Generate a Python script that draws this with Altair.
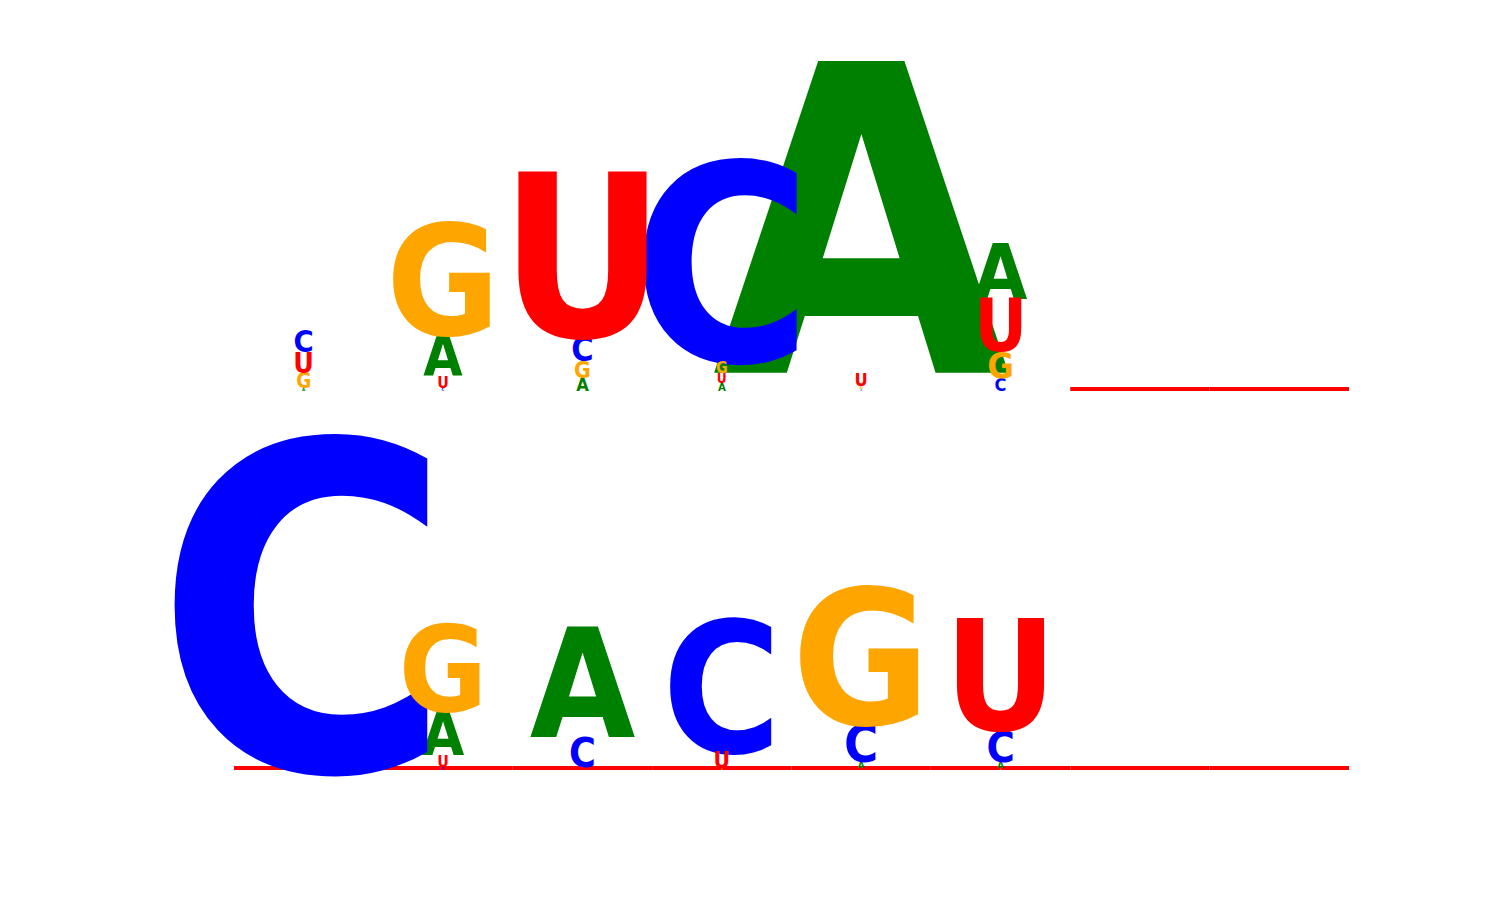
import altair as alt
import pandas as pd

# ---- data (information content in bits) ----
positions = [1, 2, 3, 4, 5, 6, 7, 8]
letters = ["A", "C", "G", "U"]
colors = ["green", "blue", "orange", "red"]

top_A = [0.02, 0.25, 0.08, 0.05, 1.89, 0.34, 0.0, 0.0]
top_C = [0.135, 0.02, 0.15, 1.21, 0.01, 0.08, 0.0, 0.0]
top_G = [0.09, 0.68, 0.10, 0.07, 0.02, 0.16, 0.0, 0.0]
top_U = [0.125, 0.07, 1.00, 0.06, 0.08, 0.32, 0.0, 0.0]

bot_A = [0.0, 0.27, 0.67, 0.0, 0.04, 0.04, 0.0, 0.0]
bot_C = [2.00, 0.02, 0.18, 0.80, 0.23, 0.19, 0.0, 0.0]
bot_G = [0.0, 0.53, 0.0, 0.01, 0.83, 0.01, 0.0, 0.0]
bot_U = [0.0, 0.07, 0.02, 0.10, 0.01, 0.68, 0.0, 0.0]

# columns where every letter is (almost) zero: flattened line at the baseline
top_flat = [7, 8]
bot_flat = [1, 2, 3, 4, 5, 6, 7, 8]
flat_height = 0.025

Y_MAX = 2.2
PANEL_H = 363
PANEL_W = 1115
FONT = "DejaVu Sans Condensed, DejaVu Sans"
CAP = 0.729  # cap height in em

rows = []
for row, series in (("top", [top_A, top_C, top_G, top_U]),
                    ("bottom", [bot_A, bot_C, bot_G, bot_U])):
    for letter, vals in zip(letters, series):
        for p, v in zip(positions, vals):
            rows.append({"row": row, "pos": p, "letter": letter, "h": v})
df = pd.DataFrame(rows)

flat_rows = [{"row": "top", "pos": p, "z": 0.0, "z2": flat_height} for p in top_flat]
flat_rows += [{"row": "bottom", "pos": p, "z": 0.0, "z2": flat_height} for p in bot_flat]
flat_df = pd.DataFrame(flat_rows)

xscale = alt.Scale(type="band", domain=positions, paddingInner=0, paddingOuter=0)
yscale = alt.Scale(domain=[0, Y_MAX])
color = alt.Color("letter:N", scale=alt.Scale(domain=letters, range=colors), legend=None)


def panel(row):
    line = alt.Chart(flat_df[flat_df.row == row]).mark_bar(color="red").encode(
        x=alt.X("pos:O", scale=xscale, axis=None),
        y=alt.Y("z:Q", scale=yscale, axis=None),
        y2="z2:Q",
    )
    txt = alt.Chart(df[df.row == row]).transform_filter(
        alt.datum.h > 0
    ).transform_stack(
        stack="h", groupby=["pos"], as_=["y0", "y1"],
        sort=[alt.SortField("h", order="ascending")],
    ).mark_text(
        font=FONT, fontWeight="bold", baseline="alphabetic", align="center"
    ).encode(
        x=alt.X("pos:O", scale=xscale, axis=None),
        y=alt.Y("y0:Q", scale=yscale, axis=None),
        text="letter:N",
        color=color,
        size=alt.Size("h:Q", scale=alt.Scale(domain=[0, Y_MAX], range=[0, PANEL_H / CAP]),
                      legend=None),
    )
    return alt.layer(line, txt).properties(width=PANEL_W, height=PANEL_H)


chart = alt.vconcat(panel("top"), panel("bottom"), spacing=16, bounds="flush").properties(
    padding={"left": 146, "top": 20, "right": 0, "bottom": 0},
).configure_view(stroke=None)

chart.save("out.html", embed_options={"renderer": "svg", "actions": False})
